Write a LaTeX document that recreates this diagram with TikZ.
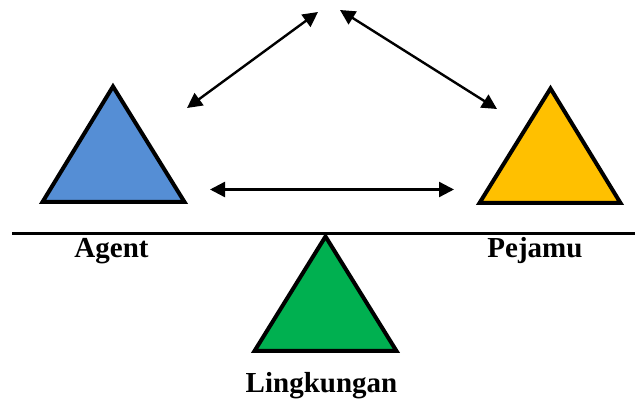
\documentclass[tikz,border=0pt]{standalone}
\usepackage{fontspec}
\setmainfont{Liberation Serif}
\usetikzlibrary{arrows.meta}
\definecolor{agentblue}{HTML}{558ED5}
\definecolor{hostorange}{HTML}{FFC000}
\definecolor{envgreen}{HTML}{00B050}
\begin{document}
\begin{tikzpicture}[x=1pt,y=-1pt,
  tri/.style={draw=black,line width=4pt,line join=miter},
  link/.style={{Triangle[length=15pt,width=15pt]}-{Triangle[length=15pt,width=15pt]},line width=2.4pt},
  lbl/.style={font=\bfseries\fontsize{29}{32}\selectfont,anchor=base,inner sep=0pt}]
\useasboundingbox[fill=white] (0,0) rectangle (635,403);
% beam
\coordinate (beamL) at (12,233.5);
\coordinate (beamR) at (635,233.5);
\draw[line width=3pt] (beamL) -- (beamR);
% triangles
\coordinate (aT) at (113,86.5);
\coordinate (aL) at (42.5,202);
\coordinate (aR) at (184.5,202);
\filldraw[tri,fill=agentblue] (aT) -- (aL) -- (aR) -- cycle;
\coordinate (pT) at (550.5,88.5);
\coordinate (pL) at (479.5,203);
\coordinate (pR) at (620.5,203);
\filldraw[tri,fill=hostorange] (pT) -- (pL) -- (pR) -- cycle;
\coordinate (lT) at (325.5,236.5);
\coordinate (lL) at (254.5,351);
\coordinate (lR) at (396.5,351);
\filldraw[tri,fill=envgreen] (lT) -- (lL) -- (lR) -- cycle;
% arrows
\coordinate (topL) at (318,12);
\coordinate (topR) at (340,10);
\coordinate (agentEnd) at (187,108);
\coordinate (hostEnd) at (497,109);
\coordinate (midL) at (210,189.5);
\coordinate (midR) at (454,189.5);
\draw[link] (topL) -- (agentEnd);
\draw[link] (topR) -- (hostEnd);
\draw[link] (midL) -- (midR);
% labels
\node[lbl] (agent) at (111.5,258) {Agent};
\node[lbl] (pejamu) at (535,258) {Pejamu};
\node[lbl] (lingk) at (321.5,393) {Lingkungan};
\end{tikzpicture}
\end{document}
